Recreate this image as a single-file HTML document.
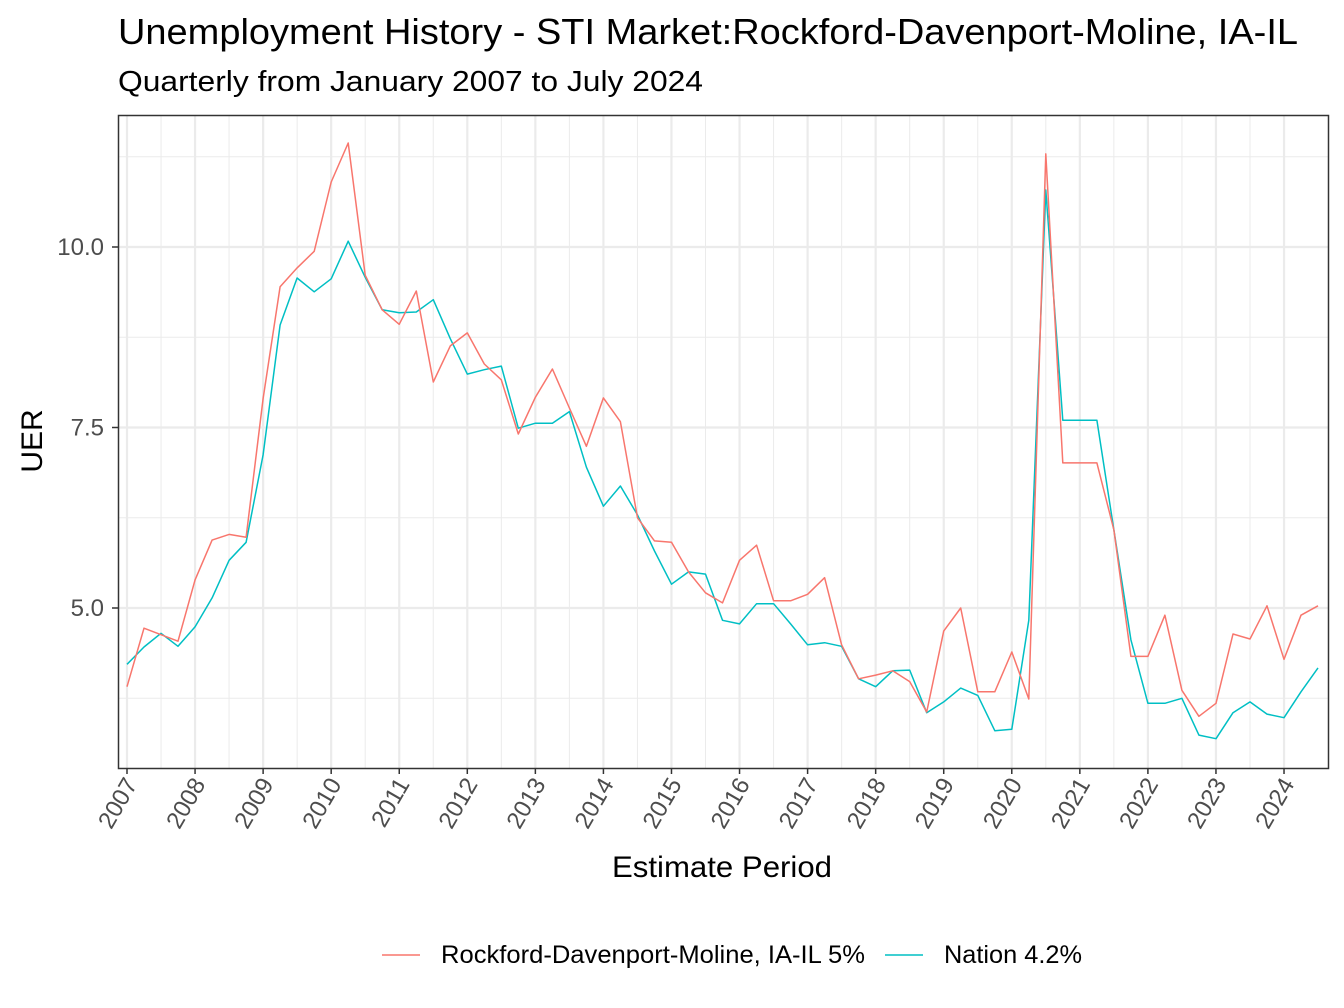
<!DOCTYPE html>
<html><head><meta charset="utf-8"><style>
body{margin:0;background:#fff;}
svg{display:block;font-family:"Liberation Sans",Arial,sans-serif;}
</style></head><body>
<svg id="chart" width="1344" height="1008" viewBox="0 0 1344 1008">
<text x="118" y="44" font-size="36" textLength="1180" lengthAdjust="spacingAndGlyphs" fill="#000">Unemployment History - STI Market:Rockford-Davenport-Moline, IA-IL</text>
<text x="118" y="91" font-size="29" textLength="585" lengthAdjust="spacingAndGlyphs" fill="#000">Quarterly from January 2007 to July 2024</text>
<g id="grid"></g>
<g id="lines"></g>
<rect x="118.5" y="115.5" width="1210" height="653" fill="none" stroke="#333" stroke-width="1.5"/>
<g id="axes"></g>
<text x="722" y="877" font-size="30" textLength="220" lengthAdjust="spacingAndGlyphs" text-anchor="middle" fill="#000">Estimate Period</text>
<text transform="translate(42,441) rotate(-90)" font-size="30" text-anchor="middle" fill="#000">UER</text>
<g>
<g>
<line x1="382" y1="955" x2="420" y2="955" stroke="#F8766D" stroke-width="1.5"/>
<text x="441" y="963" font-size="25" textLength="424" lengthAdjust="spacingAndGlyphs" fill="#000">Rockford-Davenport-Moline, IA-IL 5%</text>
</g>
<g>
<line x1="885" y1="955" x2="923" y2="955" stroke="#00BFC4" stroke-width="1.5"/>
<text x="944" y="963" font-size="25" textLength="138" lengthAdjust="spacingAndGlyphs" fill="#000">Nation 4.2%</text>
</g>
</g>
</svg>
<script>
const years = [2007,2008,2009,2010,2011,2012,2013,2014,2015,2016,2017,2018,2019,2020,2021,2022,2023,2024];
const yTicks = [5.0, 7.5, 10.0];
const yTickLabels = ["5.0","7.5","10.0"];
const yMinor = [3.75, 6.25, 8.75, 11.25];
const localValues = [3.91,4.72,4.63,4.54,5.39,5.94,6.02,5.98,7.9,9.45,9.71,9.94,10.9,11.44,9.61,9.13,8.93,9.39,8.13,8.63,8.81,8.38,8.16,7.41,7.92,8.31,7.77,7.24,7.91,7.58,6.25,5.93,5.91,5.50,5.21,5.07,5.66,5.87,5.10,5.10,5.19,5.42,4.49,4.02,4.07,4.13,3.98,3.56,4.68,5.00,3.84,3.84,4.39,3.74,11.29,7.01,7.01,7.01,6.08,4.33,4.33,4.90,3.86,3.50,3.68,4.64,4.57,5.03,4.29,4.90,5.03];
const nationValues = [4.22,4.46,4.65,4.47,4.74,5.14,5.66,5.91,7.12,8.92,9.57,9.38,9.56,10.08,9.58,9.13,9.09,9.10,9.27,8.73,8.24,8.30,8.35,7.49,7.56,7.56,7.72,6.95,6.41,6.69,6.29,5.79,5.33,5.50,5.47,4.83,4.78,5.06,5.06,4.78,4.49,4.52,4.47,4.02,3.91,4.13,4.14,3.55,3.70,3.89,3.79,3.30,3.32,4.83,10.79,7.60,7.60,7.60,6.08,4.56,3.68,3.68,3.75,3.24,3.19,3.55,3.70,3.53,3.48,3.84,4.17];

const NS='http://www.w3.org/2000/svg';
function xScale(t){return 127 + (t-2007)*68.06;}
function yScale(v){return 608 - (v-5)*72.2;}
function mk(tag, attrs, parent){const e=document.createElementNS(NS,tag);for(const k in attrs)e.setAttribute(k,attrs[k]);parent.appendChild(e);return e;}
const grid=document.getElementById('grid'), lines=document.getElementById('lines'), axes=document.getElementById('axes');
mk('rect',{x:118,y:115,width:1210,height:653,fill:'#fff'},grid);
yMinor.forEach(v=>{const l=mk('line',{x1:118,x2:1328,y1:yScale(v),y2:yScale(v),stroke:'#ebebeb','stroke-width':1},grid);

});
for(let i=0;i<years.length-1;i++){const xv=xScale(years[i]+0.5);const l=mk('line',{x1:xv,x2:xv,y1:115,y2:768,stroke:'#ebebeb','stroke-width':1},grid);

}
yTicks.forEach((v,i)=>{const y=yScale(v);
const g=mk('line',{x1:118,x2:1328,y1:y,y2:y,stroke:'#ebebeb','stroke-width':2.2},grid);


const t=mk('line',{x1:112,x2:118,y1:y,y2:y,stroke:'#333','stroke-width':1.5},axes);


const tx=mk('text',{x:104,y:y+8,'font-size':24,'text-anchor':'end',fill:'#4d4d4d'},axes);tx.textContent=yTickLabels[i];

});
years.forEach(yr=>{const x=xScale(yr);
const g=mk('line',{x1:x,x2:x,y1:115,y2:768,stroke:'#ebebeb','stroke-width':2.2},grid);


const t=mk('line',{x1:x,x2:x,y1:768,y2:774,stroke:'#333','stroke-width':1.5},axes);


const tx=mk('text',{'font-size':24,'text-anchor':'end',fill:'#4d4d4d',transform:`translate(${x+11},${784}) rotate(-60)`},axes);tx.textContent=yr;

});
function drawLine(vals,color,name){const pts=vals.map((v,i)=>xScale(2007+i*0.25).toFixed(1)+','+yScale(v).toFixed(1)).join(' ');
const p=mk('polyline',{points:pts,fill:'none',stroke:color,'stroke-width':1.5,'stroke-linejoin':'round'},lines);

}
drawLine(nationValues,'#00BFC4','nation-line');
drawLine(localValues,'#F8766D','local-line');
</script>
</body></html>
